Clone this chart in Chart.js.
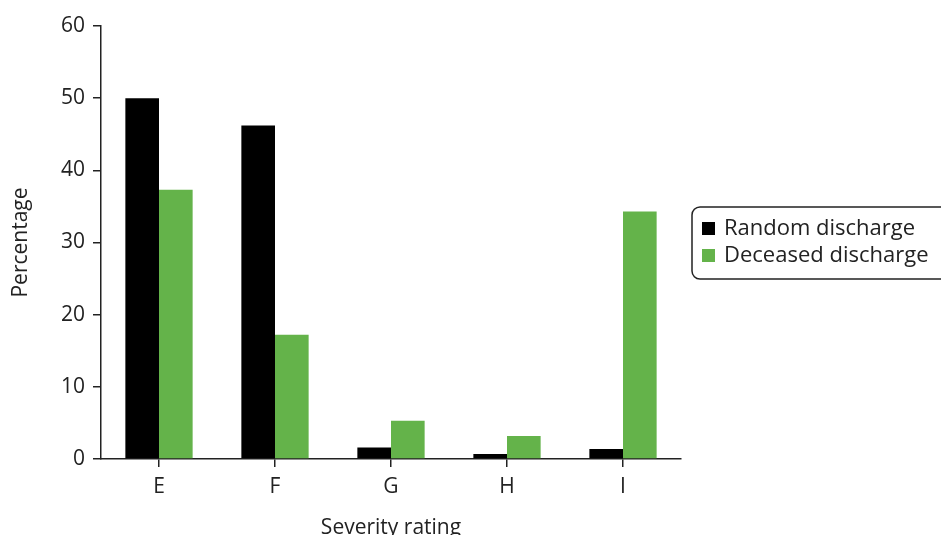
<!DOCTYPE html>
<html><head><meta charset="utf-8">
<script src="https://cdn.jsdelivr.net/npm/chart.js@4/dist/chart.umd.min.js"></script>
<style>html,body{margin:0;padding:0;background:#fff}#wrap{width:941px;height:535px;position:relative}</style>
</head><body><div id="wrap"><canvas id="c" width="941" height="535"></canvas></div>
<script>
const categories = ["E", "F", "G", "H", "I"];
const randomDischarge = [50.0, 46.2, 1.6, 0.7, 1.4];
const deceasedDischarge = [37.3, 17.2, 5.3, 3.2, 34.3];
const yTicks = [0, 10, 20, 30, 40, 50, 60];
const seriesNames = ["Random discharge", "Deceased discharge"];
const seriesColors = ["#000000", "#64b34a"];

const FONT = "'Open Sans', 'Noto Sans', sans-serif";
const TXT = "#222222";

const legendBox = {
  id: 'legendBox',
  afterDraw(chart) {
    const ctx = chart.ctx;
    ctx.save();
    const x = 692, y = 207, w = 260, h = 72, r = 8;
    ctx.beginPath();
    ctx.moveTo(x + r, y);
    ctx.lineTo(x + w - r, y);
    ctx.arcTo(x + w, y, x + w, y + r, r);
    ctx.lineTo(x + w, y + h - r);
    ctx.arcTo(x + w, y + h, x + w - r, y + h, r);
    ctx.lineTo(x + r, y + h);
    ctx.arcTo(x, y + h, x, y + h - r, r);
    ctx.lineTo(x, y + r);
    ctx.arcTo(x, y, x + r, y, r);
    ctx.closePath();
    ctx.lineWidth = 1.5;
    ctx.strokeStyle = "#222";
    ctx.stroke();
    ctx.font = "22px " + FONT;
    ctx.textBaseline = "middle";
    chart.data.datasets.forEach((ds, i) => {
      const cy = 229 + i * 27;
      ctx.fillStyle = ds.backgroundColor;
      ctx.fillRect(702, cy - 7, 13, 13);
      ctx.fillStyle = TXT;
      ctx.fillText(ds.label, 724, cy);
    });
    ctx.restore();
  }
};

new Chart(document.getElementById('c'), {
  type: 'bar',
  data: {
    labels: categories,
    datasets: [
      { label: seriesNames[0], data: randomDischarge, backgroundColor: seriesColors[0] },
      { label: seriesNames[1], data: deceasedDischarge, backgroundColor: seriesColors[1] }
    ]
  },
  options: {
    responsive: false,
    animation: false,
    devicePixelRatio: 1,
    layout: { padding: { left: 0, right: 260, top: 26, bottom: 0 } },
    datasets: { bar: { categoryPercentage: 0.58, barPercentage: 1.0 } },
    plugins: { legend: { display: false }, tooltip: { enabled: false } },
    scales: {
      x: {
        grid: { display: true, drawOnChartArea: false, drawTicks: true, tickLength: 8, color: "#222", lineWidth: 1.5, offset: false },
        border: { display: true, color: "#222", width: 1.5 },
        ticks: { color: TXT, font: { family: FONT, size: 21 }, padding: 7 },
        title: { display: true, text: "Severity rating", color: TXT, font: { family: FONT, size: 21 }, padding: { top: 18, bottom: -6 } },
        afterFit(s) { s.height = 76; }
      },
      y: {
        min: 0, max: 60,
        afterBuildTicks(s) { s.ticks = yTicks.map(v => ({ value: v })); },
        grid: { display: true, drawOnChartArea: false, drawTicks: true, tickLength: 8, color: "#222", lineWidth: 1.5 },
        border: { display: true, color: "#222", width: 1.5 },
        ticks: { color: TXT, font: { family: FONT, size: 21 }, padding: 8 },
        title: { display: true, text: "Percentage", color: TXT, font: { family: FONT, size: 21 }, padding: { top: 8, bottom: 8 } },
        afterFit(s) { s.width = 101; }
      }
    }
  },
  plugins: [legendBox]
});
</script>
</body></html>
